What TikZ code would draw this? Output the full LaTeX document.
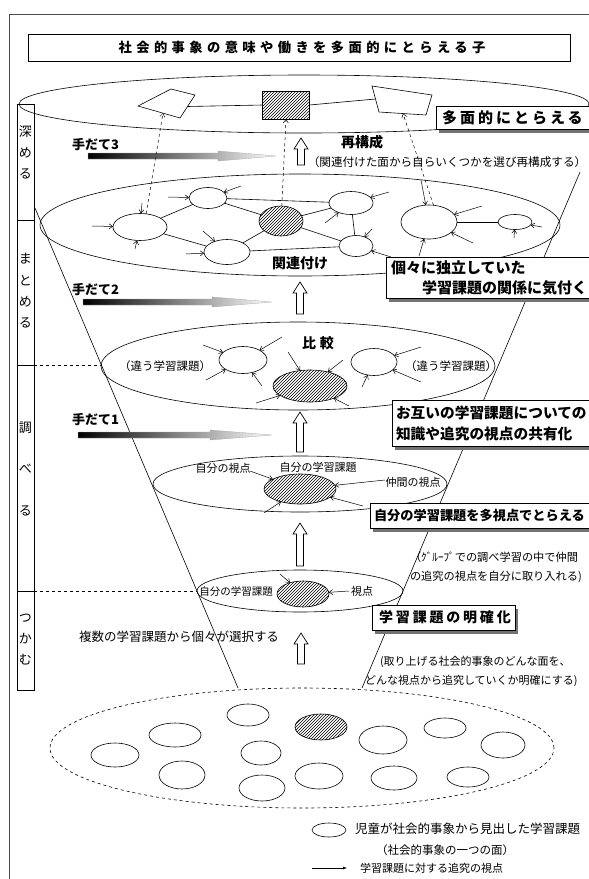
\documentclass[tikz,border=0pt]{standalone}
\usepackage{fontspec}
\setmainfont{Noto Sans CJK JP}
\newfontfamily\jpsp[LetterSpace=33]{Noto Sans CJK JP}
\newfontfamily\jpspb[LetterSpace=20]{Noto Sans CJK JP}
\usetikzlibrary{shapes.geometric,patterns,arrows.meta,shadows}
\newcommand\fz[1]{\fontsize{#1}{#1}\selectfont}
\newcommand\upa[3]{%
  \draw[fill=white,line width=0.7pt] ({#1-3.5},#3) -- ({#1-3.5},{#2+11}) -- ({#1-7},{#2+11}) -- (#1,#2) -- ({#1+7},{#2+11}) -- ({#1+3.5},{#2+11}) -- ({#1+3.5},#3) -- cycle;}
\newcommand\grad[4]{% x0 x1 tip y
  \shade[gradarrow] (#1,{#4-3}) -- (#2,{#4-3}) -- (#2,{#4-5}) -- (#3,#4) -- (#2,{#4+5}) -- (#2,{#4+3}) -- (#1,{#4+3}) -- cycle;}
\begin{document}
\begin{tikzpicture}[x=1pt,y=-1pt,line width=0.6pt,
  every node/.style={inner sep=0pt,outer sep=0pt},
  oval/.style={ellipse,draw,inner sep=0pt},
  hatch/.style={pattern=north east lines},
  pv/.style={-{Straight Barb[length=3.5pt,width=5pt]},line width=0.5pt},
  callout/.style={draw,fill=white,line width=0.7pt,drop shadow={shadow xshift=3pt,shadow yshift=-4pt,fill=black!55,opacity=1}},
  gradarrow/.style={left color=black,right color=white,draw=gray!70,line width=0.3pt}]
\useasboundingbox (0,0) rectangle (589,879);
\fill[white] (0,0) rectangle (589,879);

% frame
\coordinate (f1) at (9,879); \coordinate (f2) at (9,14); \coordinate (f3) at (589,14);
\draw[line width=0.8pt,black!70] (f1) -- (f2) -- (f3);

% title
\node[draw,line width=0.8pt,minimum width=542,minimum height=27] (T) at (299,47.5) {};
\node[font=\jpsp\bfseries\fz{13.3}] (Tt) at (302,47.5) {社会的事象の意味や働きを多面的にとらえる子};

% stage box
\node[draw,minimum width=17,minimum height=586,anchor=north west] (S) at (17,104) {};
\coordinate (s1a) at (17,220); \coordinate (s1b) at (34,220);
\coordinate (s2a) at (17,365); \coordinate (s2b) at (34,365);
\coordinate (s3a) at (17,591); \coordinate (s3b) at (34,591);
\draw (s1a) -- (s1b); \draw (s2a) -- (s2b); \draw (s3a) -- (s3b);
\node[align=center,font=\fontsize{13}{21}\selectfont] (st1) at (25.5,152) {深\\め\\る};
\node[align=center,font=\fontsize{13}{21.3}\selectfont] (st2) at (25.5,291) {ま\\と\\め\\る};
\node[align=center,font=\fontsize{13}{41.5}\selectfont] (st3) at (25.5,469) {調\\べ\\る};
\node[align=center,font=\fontsize{13}{21}\selectfont] (st4) at (25.5,640) {つ\\か\\む};

% big ellipses
\node[oval,minimum width=570,minimum height=58] (E1) at (304,104) {};
\node[oval,minimum width=520,minimum height=102] (E2) at (300,225) {};
\node[oval,minimum width=394,minimum height=88] (E3) at (298,366) {};
\node[oval,minimum width=294,minimum height=56] (E4) at (300,484) {};
\node[oval,minimum width=206,minimum height=42] (E5) at (300,591) {};
\node[oval,dashed,minimum width=504,minimum height=120] (ED) at (302,748) {};

% cone lines and stage dashed lines
\coordinate (cl1) at (35,208); \coordinate (cl2) at (238,688);
\coordinate (cr1) at (580,172); \coordinate (cr2) at (362,688);
\draw (cl1) -- (cl2); \draw (cr1) -- (cr2);
\coordinate (dl1) at (102,365); \coordinate (dl2) at (197,591);
\draw[dashed] (s2b) -- (dl1); \draw[dashed] (s3b) -- (dl2);

% top level shapes
\coordinate (q1) at (138,106); \coordinate (q2) at (171,89); \coordinate (q3) at (195,95); \coordinate (q4) at (180,118);
\draw (q1) -- (q2) -- (q3) -- (q4) -- cycle;
\coordinate (p1) at (372,86); \coordinate (p2) at (432,95); \coordinate (p3) at (426,115); \coordinate (p4) at (379,112);
\draw (p1) -- (p2) -- (p3) -- (p4) -- cycle;
\node[draw,hatch,minimum width=47,minimum height=28] (R) at (286,105) {};
\coordinate (qr) at (187.5,106.5); \coordinate (pl) at (375.5,99);
\draw (qr) -- (R.west); \draw (R.east) -- (pl);
\node[callout,anchor=north west,minimum width=160,minimum height=23] (K0) at (436,106) {};
\node[anchor=west,font=\jpspb\bfseries\fz{15}] (K0t) at (442,117.5) {多面的にとらえる};

% level 3 texts
\node[anchor=west,font=\bfseries\fz{13}] (h3) at (72,145) {手だて3};
\grad{88}{218}{276}{156}
\upa{301}{138}{165}
\node[font=\bfseries\fz{14}] (sai) at (362,142) {再構成};
\node[font=\fz{11.6}] (sait) at (447,162) {（関連付けた面から自らいくつかを選び再構成する）};

% level 2 (kanrenzuke)
\node[oval,minimum width=54,minimum height=27] (A) at (140,227) {};
\node[oval,minimum width=38,minimum height=21] (B) at (208,198) {};
\node[oval,hatch,minimum width=44,minimum height=30] (C) at (281,221) {};
\node[oval,minimum width=46,minimum height=25] (D) at (227,252) {};
\node[oval,minimum width=44,minimum height=23] (E) at (351,203) {};
\node[oval,minimum width=34,minimum height=21] (F) at (356,246) {};
\node[oval,minimum width=56,minimum height=34] (G) at (429,222) {};
\node[oval,minimum width=34,minimum height=15] (H) at (515,222) {};
\draw (A) -- (B); \draw (A) -- (D); \draw (B) -- (E); \draw (B) -- (C);
\draw (C) -- (E); \draw (C) -- (F); \draw (C) -- (D); \draw (D) -- (F);
\draw (E) -- (F); \draw (G) -- (H);
\foreach \n/\x/\y/\t in {a1/92/226/A,a2/142/203/A,a3/135/249/A,a4/168/197/B,a5/241/186/B,
  a6/203/231/D,a7/186/254/D,a8/389/192/E,a9/325/223/E,a10/372/229/F,a11/391/257/F,
  a12/421/180/G,a13/482/206/G,a14/473/243/G,a15/419/256/G,a16/542/227/H,a17/514/238/H}
  {\coordinate (\n) at (\x,\y); \draw[pv] (\n) -- (\t);}
\coordinate (qb) at (163,113); \coordinate (pb) at (403,113.5);
\draw[dashed,-{Straight Barb[length=3.5pt,width=5pt]},line width=0.5pt] (A.65) -- (qb);
\draw[dashed,-{Straight Barb[length=3.5pt,width=5pt]},line width=0.5pt] (C.87) -- (R.south);
\draw[dashed,-{Straight Barb[length=3.5pt,width=5pt]},line width=0.5pt] (G.75) -- (pb);
\node[font=\bfseries\fz{14}] (kz) at (300,263) {関連付け};
\node[callout,anchor=north west,minimum width=206,minimum height=41] (K1) at (386,257) {};
\node[anchor=west,font=\bfseries\fz{15}] (K1a) at (391,268) {個々に独立していた};
\node[anchor=east,font=\bfseries\fz{15}] (K1b) at (587,288) {学習課題の関係に気付く};

\node[anchor=west,font=\bfseries\fz{13}] (h2) at (72,290) {手だて2};
\grad{83}{212}{272}{302}
\upa{300}{282}{314}

% level: hikaku
\node[font=\bfseries\fz{14}] (hk) at (318,343) {比\hspace{4pt}較};
\node[font=\fz{11.5}] (chL) at (165,366) {（違う学習課題）};
\node[font=\fz{11.5}] (chR) at (451,366) {（違う学習課題）};
\node[oval,minimum width=48,minimum height=27] (L3) at (243,360) {};
\node[oval,hatch,minimum width=74,minimum height=32] (H3) at (310,386) {};
\node[oval,minimum width=46,minimum height=27] (R3) at (374,362) {};
\foreach \n/\x/\y/\t in {b1/203/345/L3,b2/282/337/L3,b3/206/380/L3,b4/262/386/L3,
  b5/288/352/H3,b6/343/360/H3,b7/256/403/H3,b8/349/406/H3,
  b9/421/347/R3,b10/421/382/R3,b11/362/387/R3}
  {\coordinate (\n) at (\x,\y); \draw[pv] (\n) -- (\t);}
\node[callout,anchor=north west,minimum width=200,minimum height=46] (K2) at (392,400) {};
\node[anchor=west,font=\bfseries\fz{14.7}] (K2a) at (396,413) {お互いの学習課題についての};
\node[anchor=west,font=\bfseries\fz{14.7}] (K2b) at (396,434) {知識や追究の視点の共有化};

\node[anchor=west,font=\bfseries\fz{13}] (h1) at (72,420) {手だて1};
\grad{78}{210}{272}{435}
\upa{300}{412}{452}

% level: jibun no shiten
\node[font=\fz{11}] (js) at (223,468) {自分の視点};
\node[font=\fz{11}] (jk) at (318,467) {自分の学習課題};
\node[oval,hatch,minimum width=72,minimum height=30] (H4) at (300,489) {};
\node[font=\fz{11}] (ns) at (413,482) {仲間の視点};
\foreach \n/\x/\y in {c1/250/471,c2/385/480,c3/363/506,c4/264/513}
  {\coordinate (\n) at (\x,\y); \draw[pv] (\n) -- (H4);}
\node[callout,anchor=north west,minimum width=222,minimum height=25] (K3) at (370,503) {};
\node[anchor=west,font=\bfseries\fz{13.2}] (K3t) at (374,515.5) {自分の学習課題を多視点でとらえる};
\node[anchor=west,font=\fz{11.2}] (g1) at (410,557) {（ｸﾞﾙｰﾌﾟでの調べ学習の中で仲間};
\node[anchor=west,font=\fz{11.2}] (g2) at (410,577) {の追究の視点を自分に取り入れる)};
\upa{300}{523}{566}

% level: small ellipse
\node[font=\fz{10.5}] (jk5) at (236,592) {自分の学習課題};
\node[oval,hatch,minimum width=52,minimum height=26] (H5) at (303,594) {};
\node[font=\fz{11}] (sh5) at (362,591) {視点};
\coordinate (d1) at (349,591); \coordinate (d2) at (280,574);
\draw[pv] (d1) -- (H5); \draw[pv] (d2) -- (H5);
\node[callout,anchor=north west,minimum width=143,minimum height=25] (K4) at (372,605) {};
\node[font=\jpspb\bfseries\fz{14}] (K4t) at (445,617.5) {学習課題の明確化};
\node[anchor=west,font=\fz{12.5}] (fk) at (79,637) {複数の学習課題から個々が選択する};
\upa{301}{633}{664}
\node[anchor=west,font=\fz{11}] (tr1) at (380,662) {(取り上げる社会的事象のどんな面を、};
\node[anchor=west,font=\fz{11}] (tr2) at (365,681) {どんな視点から追究していくか明確にする)};

% bottom ovals
\node[oval,minimum width=42,minimum height=22] (O1) at (248,715) {};
\node[oval,hatch,minimum width=52,minimum height=26] (O2) at (321,727) {};
\node[oval,minimum width=52,minimum height=24] (O3) at (175,735) {};
\node[oval,minimum width=42,minimum height=20] (O4) at (445,728) {};
\node[oval,minimum width=48,minimum height=28] (O5) at (383,740) {};
\node[oval,minimum width=44,minimum height=26] (O6) at (503,745) {};
\node[oval,minimum width=48,minimum height=24] (O7) at (115,755) {};
\node[oval,minimum width=40,minimum height=24] (O8) at (261,753) {};
\node[oval,minimum width=46,minimum height=28] (O9) at (182,775) {};
\node[oval,minimum width=48,minimum height=26] (O10) at (319,776) {};
\node[oval,minimum width=46,minimum height=24] (O11) at (394,778) {};
\node[oval,minimum width=42,minimum height=20] (O12) at (468,777) {};
\node[oval,minimum width=46,minimum height=26] (O13) at (262,788) {};

% legend
\node[oval,minimum width=34,minimum height=14] (LG) at (329,830) {};
\node[anchor=west,font=\fz{12.5}] (LGt) at (355,829) {児童が社会的事象から見出した学習課題};
\node[font=\fz{11.5}] (LGt2) at (445,850) {（社会的事象の一つの面）};
\coordinate (la1) at (312,868); \coordinate (la2) at (347,868);
\draw[-{Latex[length=4pt,width=3pt]},line width=0.5pt] (la1) -- (la2);
\node[anchor=west,font=\fz{11}] (LGt3) at (360,868) {学習課題に対する追究の視点};
\end{tikzpicture}
\end{document}
